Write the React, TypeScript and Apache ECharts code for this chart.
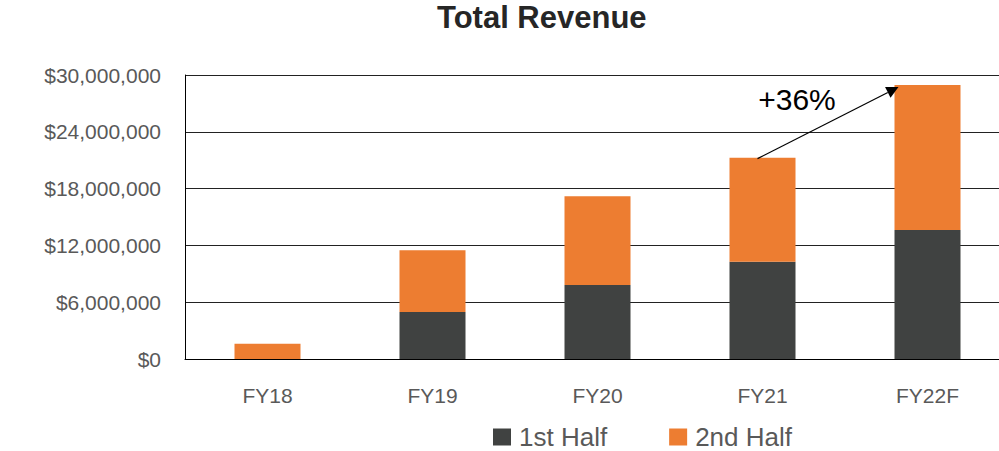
import React, { useEffect, useRef } from "react";
import * as echarts from "echarts";

const categories = ["FY18", "FY19", "FY20", "FY21", "FY22F"];
const firstHalf = [0, 4960000, 7820000, 10280000, 13630000];
const secondHalf = [1620000, 6540000, 9370000, 10990000, 15310000];
const yTicks = { min: 0, max: 30000000, interval: 6000000 };
const growthLabel = "+36%";

const FONT = "'Liberation Sans', Arial, sans-serif";
const GRAY = "#595959";

export default function App() {
  const ref = useRef<HTMLDivElement>(null);
  useEffect(() => {
    if (!ref.current) return;
    const chart = echarts.init(ref.current, null, { renderer: "svg" });
    const option: any = {
      animation: false,
      backgroundColor: "#ffffff",
      title: {
        text: "Total Revenue",
        left: 437,
        top: 0,
        padding: [2, 0, 0, 0],
        textStyle: { fontFamily: FONT, fontSize: 31, fontWeight: "bold", color: "#262626" },
      },
      legend: {
        left: 493,
        top: 424,
        padding: 0,
        icon: "rect",
        itemWidth: 18,
        itemHeight: 17,
        itemGap: 62,
        textStyle: {
          fontFamily: FONT,
          fontSize: 26,
          color: GRAY,
          padding: [0, 0, 0, 3],
        },
        data: ["1st Half", "2nd Half"],
      },
      grid: { left: 185, top: 75, width: 825, height: 284, containLabel: false },
      xAxis: {
        type: "category",
        data: categories,
        axisLine: { show: true, lineStyle: { color: "#000", width: 1 } },
        axisTick: { show: false },
        axisLabel: { fontFamily: FONT, fontSize: 21, color: GRAY, margin: 26 },
      },
      yAxis: {
        type: "value",
        min: yTicks.min,
        max: yTicks.max,
        interval: yTicks.interval,
        axisLine: { show: true, lineStyle: { color: "#000", width: 1 } },
        axisTick: { show: false },
        splitLine: { show: true, lineStyle: { color: "#222", width: 1 } },
        axisLabel: {
          fontFamily: FONT,
          fontSize: 21,
          color: GRAY,
          margin: 24,
          formatter: (v: number) => "$" + v.toLocaleString("en-US"),
        },
      },
      series: [
        {
          name: "1st Half",
          type: "bar",
          stack: "rev",
          barWidth: "40%",
          data: firstHalf,
          itemStyle: { color: "#404241" },
        },
        {
          name: "2nd Half",
          type: "bar",
          stack: "rev",
          barWidth: "40%",
          data: secondHalf,
          itemStyle: { color: "#ED7D31" },
        },
      ],
    };
    chart.setOption(option);

    const totals = firstHalf.map((v, i) => v + secondHalf[i]);
    const start = chart.convertToPixel({ gridIndex: 0 }, [categories[3], totals[3]]) as number[];
    const end = chart.convertToPixel({ gridIndex: 0 }, [categories[4], totals[4]]) as number[];
    const sx = start[0] - 5;
    const sy = start[1] + 1;
    const ex = end[0] - 29;
    const ey = end[1] + 2;
    const ang = Math.atan2(ey - sy, ex - sx);
    const len = 12;
    const half = 6;
    const bx = ex - len * Math.cos(ang);
    const by = ey - len * Math.sin(ang);
    const px = -Math.sin(ang) * half;
    const py = Math.cos(ang) * half;
    chart.setOption({
      graphic: [
        {
          type: "line",
          shape: { x1: sx, y1: sy, x2: bx, y2: by },
          style: { stroke: "#000", lineWidth: 1.2 },
          z: 100,
        },
        {
          type: "polygon",
          shape: { points: [[ex, ey], [bx + px, by + py], [bx - px, by - py]] },
          style: { fill: "#000" },
          z: 100,
        },
        {
          type: "text",
          x: 797,
          y: 99,
          style: {
            text: growthLabel,
            fontFamily: FONT,
            fontSize: 30,
            fill: "#000",
            align: "center",
            verticalAlign: "middle",
          },
          z: 100,
        },
      ],
    });
    return () => chart.dispose();
  }, []);
  return (
    <div
      style={{
        position: "fixed",
        left: 0,
        top: 0,
        width: 999,
        height: 451,
        overflow: "hidden",
        background: "#fff",
      }}
    >
      <div ref={ref} style={{ width: 1012, height: 451 }} />
    </div>
  );
}
